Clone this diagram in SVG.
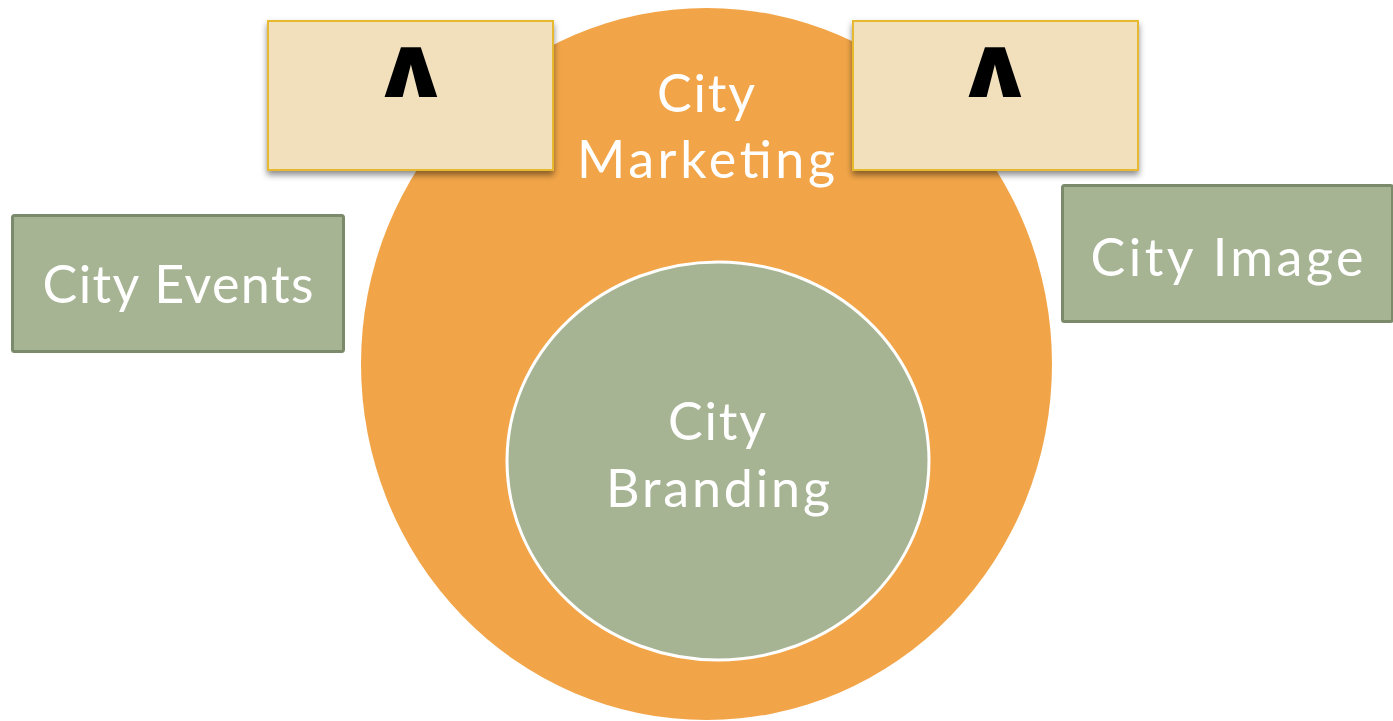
<svg xmlns="http://www.w3.org/2000/svg" width="1393" height="721" viewBox="0 0 1393 721">
  <defs>
    <filter id="shadow" x="-10%" y="-10%" width="120%" height="130%">
      <feDropShadow dx="0" dy="4" stdDeviation="3" flood-color="#000" flood-opacity="0.45"/>
    </filter>
    <style>
      .label { font-family: Lato, "Open Sans", sans-serif; fill: #ffffff; font-size: 52px; text-anchor: middle; }
      .tan { fill: #F2E0BD; stroke: #E6B92E; stroke-width: 2; }
      .green { fill: #A6B493; stroke: #7B8A6B; stroke-width: 3; }
      .caret { font-family: "DejaVu Sans", sans-serif; font-weight: bold; fill: #000; text-anchor: middle; font-size: 86px; }
    </style>
  </defs>
  <rect width="1393" height="721" fill="#ffffff"/>

  <g id="city-marketing">
    <ellipse cx="706.5" cy="364" rx="345.5" ry="356" fill="#F2A548"/>
    <text class="label" x="706" y="112" textLength="98" lengthAdjust="spacing">City</text>
    <text class="label" x="706" y="178" textLength="258" lengthAdjust="spacing">Marketing</text>
  </g>

  <g id="city-branding">
    <ellipse cx="718" cy="461" rx="211" ry="199" fill="#A6B493" stroke="#ffffff" stroke-width="3"/>
    <text class="label" x="717" y="440" textLength="98" lengthAdjust="spacing">City</text>
    <text class="label" x="718" y="507" textLength="224" lengthAdjust="spacing">Branding</text>
  </g>

  <g id="box-left" filter="url(#shadow)">
    <rect class="tan" x="268" y="21" width="285" height="149"/>
    <text class="caret" transform="translate(411 97) scale(1.2 1)">∧</text>
  </g>

  <g id="box-right" filter="url(#shadow)">
    <rect class="tan" x="853" y="21" width="285" height="149"/>
    <text class="caret" transform="translate(995 97) scale(1.2 1)">∧</text>
  </g>

  <g id="city-events">
    <rect class="green" x="12.5" y="215.5" width="331" height="136" rx="2"/>
    <text class="label" x="178" y="303" textLength="271" lengthAdjust="spacing">City Events</text>
  </g>

  <g id="city-image">
    <rect class="green" x="1062.5" y="185.5" width="330" height="136" rx="2"/>
    <text class="label" x="1227" y="276" textLength="273" lengthAdjust="spacing">City Image</text>
  </g>

  <g id="connectors"/>
</svg>
